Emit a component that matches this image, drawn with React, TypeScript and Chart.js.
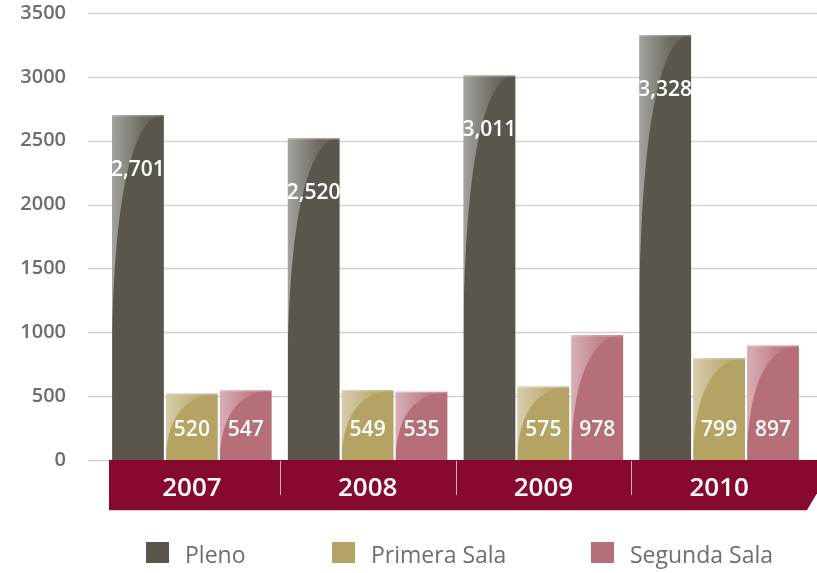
import React, { useEffect, useRef } from "react";
import { Chart, registerables } from "chart.js";

Chart.register(...registerables);

// ---- data ----
const years = ["2007", "2008", "2009", "2010"];
const pleno = [2701, 2520, 3011, 3328];
const primeraSala = [520, 549, 575, 799];
const segundaSala = [547, 535, 978, 897];
const seriesNames = ["Pleno", "Primera Sala", "Segunda Sala"];
const seriesColors = ["#5a564b", "#b5a364", "#b66e78"];
const yMin = 0;
const yMax = 3500;
const yStep = 500;

const FONT = "'Open Sans', 'DejaVu Sans', sans-serif";
const GRAY = "#6d6e71";
const BAND = "#870a2e";

const backdropPlugin = {
  id: "backdrop",
  beforeDraw(chart: any) {
    const { ctx, chartArea, scales } = chart;
    const y = scales.y;
    const x = scales.x;
    ctx.save();
    // grid lines
    ctx.strokeStyle = "#d3d3d3";
    ctx.lineWidth = 1.5;
    y.ticks.forEach((t: any) => {
      const py = Math.round(y.getPixelForValue(t.value)) + 0.5;
      ctx.beginPath();
      ctx.moveTo(88, py);
      ctx.lineTo(chart.width, py);
      ctx.stroke();
    });
    // category band
    const top = chartArea.bottom;
    const bottom = chartArea.bottom + 50;
    const left = chartArea.left + 5;
    const rightBottom = chartArea.right;
    ctx.fillStyle = BAND;
    ctx.beginPath();
    ctx.moveTo(left, top);
    ctx.lineTo(chart.width + 20, top);
    ctx.lineTo(rightBottom + 0, bottom);
    ctx.lineTo(left, bottom);
    ctx.closePath();
    ctx.fill();
    ctx.strokeStyle = "rgba(240,170,190,0.7)";
    ctx.lineWidth = 1;
    ctx.beginPath();
    ctx.moveTo(left, bottom + 0.5);
    ctx.lineTo(rightBottom, bottom + 0.5);
    ctx.stroke();
    // dividers
    ctx.strokeStyle = "rgba(255,220,230,0.75)";
    ctx.lineWidth = 1;
    for (let i = 0; i < x.ticks.length - 1; i++) {
      const mx = Math.round((x.getPixelForTick(i) + x.getPixelForTick(i + 1)) / 2) + 0.5;
      ctx.beginPath();
      ctx.moveTo(mx, top + 1);
      ctx.lineTo(mx, top + 35);
      ctx.stroke();
    }
    ctx.restore();
  },
};

const barDecorPlugin = {
  id: "barDecor",
  afterDatasetsDraw(chart: any) {
    const { ctx } = chart;
    ctx.save();
    chart.data.datasets.forEach((ds: any, di: number) => {
      const meta = chart.getDatasetMeta(di);
      meta.data.forEach((bar: any, i: number) => {
        const { x, y, base, width } = bar.getProps(["x", "y", "base", "width"], true);
        const left = x - width / 2;
        const right = x + width / 2;
        const h = base - y;
        const H = Math.min(0.95 * h, 60 + 0.5 * h);
        // highlight
        const g = ctx.createLinearGradient(left, 0, right, 0);
        g.addColorStop(0, "rgba(255,255,255,0.45)");
        g.addColorStop(0.6, "rgba(255,255,255,0.12)");
        g.addColorStop(1, "rgba(255,255,255,0.06)");
        ctx.fillStyle = g;
        ctx.beginPath();
        ctx.moveTo(left, y);
        ctx.lineTo(right - 2, y);
        ctx.bezierCurveTo(right - width * 0.55, y + 2, left + 2, y + H * 0.3, left, y + H);
        ctx.closePath();
        ctx.fill();
        // top edge
        ctx.fillStyle = "rgba(255,255,255,0.25)";
        ctx.fillRect(left, y, width, 1.5);
        // value label
        const v = ds.data[i];
        ctx.fillStyle = "#ffffff";
        ctx.font = `600 21px ${FONT}`;
        ctx.textAlign = "center";
        ctx.textBaseline = "middle";
        const label = v.toLocaleString("en-US");
        const ly = h > 200 ? y + 55 : base - 30;
        ctx.fillText(label, x, ly);
      });
    });
    ctx.restore();
  },
};

const legendPlugin = {
  id: "customLegend",
  afterDraw(chart: any) {
    const { ctx } = chart;
    const boxX = [146, 332, 591];
    ctx.save();
    chart.data.datasets.forEach((ds: any, i: number) => {
      const bx = boxX[i];
      ctx.fillStyle = ds.backgroundColor;
      ctx.fillRect(bx, 542, 23, 21);
      ctx.fillStyle = GRAY;
      ctx.font = `400 23px ${FONT}`;
      ctx.textAlign = "left";
      ctx.textBaseline = "alphabetic";
      ctx.fillText(ds.label, bx + 39, 563);
    });
    ctx.restore();
  },
};

export default function App() {
  const ref = useRef<HTMLCanvasElement | null>(null);
  useEffect(() => {
    if (!ref.current) return;
    const chart = new Chart(ref.current, {
      type: "bar",
      data: {
        labels: years,
        datasets: [pleno, primeraSala, segundaSala].map((d, i) => ({
          label: seriesNames[i],
          data: d,
          backgroundColor: seriesColors[i],
          borderWidth: 0,
          barPercentage: 0.96,
          categoryPercentage: 0.92,
        })),
      },
      options: {
        animation: false,
        responsive: false,
        maintainAspectRatio: false,
        layout: { padding: { top: 13, right: 10, bottom: 63, left: 0 } },
        plugins: {
          legend: { display: false },
          tooltip: { enabled: false },
        },
        scales: {
          x: {
            grid: { display: false, drawTicks: false },
            border: { display: false },
            ticks: {
              color: "#ffffff",
              font: { family: FONT, size: 26, weight: "600" },
              padding: 13,
            },
            afterFit: (s: any) => {
              s.height = 50;
            },
          },
          y: {
            min: yMin,
            max: yMax,
            grid: { display: false, drawTicks: false },
            border: { display: false },
            ticks: {
              stepSize: yStep,
              color: GRAY,
              font: { family: FONT, size: 20, weight: "600" },
              padding: 38,
              callback: (v: any) => String(v),
            },
            afterFit: (s: any) => {
              s.width = 104;
              s.paddingTop = 0;
              s.paddingBottom = 0;
            },
          },
        },
      },
      plugins: [backdropPlugin, barDecorPlugin, legendPlugin],
    });
    return () => chart.destroy();
  }, []);
  return (
    <div style={{ position: "absolute", left: 0, top: 0, width: 817, height: 573, background: "#fff" }}>
      <canvas ref={ref} width={817} height={573} style={{ display: "block" }} />
    </div>
  );
}
